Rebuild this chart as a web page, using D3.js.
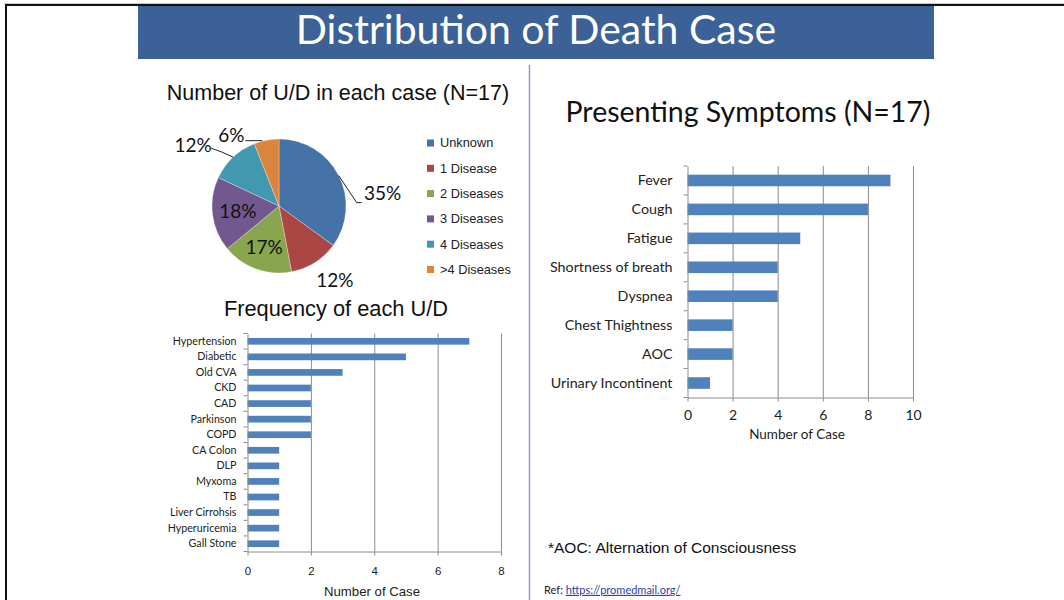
<!DOCTYPE html>
<html>
<head>
<meta charset="utf-8">
<script src="https://cdn.jsdelivr.net/npm/d3@7"></script>
<style>
body{margin:0;background:#fff}
svg{display:block}
</style>
</head>
<body>
<div id="canvas"></div>
<script>
// data
const pieCategories = ["Unknown", "1 Disease", "2 Diseases", "3 Diseases", "4 Diseases", ">4 Diseases"]
const piePercents = [35, 12, 17, 18, 12, 6]
const pieColors = ["#4572a7", "#aa4643", "#89a54e", "#71588f", "#4198af", "#db843d"]

const udNames = ["Hypertension", "Diabetic", "Old CVA", "CKD", "CAD", "Parkinson", "COPD",
    "CA Colon", "DLP", "Myxoma", "TB", "Liver Cirrohsis", "Hyperuricemia", "Gall Stone"]
const udCounts = [7, 5, 3, 2, 2, 2, 2, 1, 1, 1, 1, 1, 1, 1]
const udTicks = [0, 2, 4, 6, 8]

const symptomNames = ["Fever", "Cough", "Fatigue", "Shortness of breath", "Dyspnea",
    "Chest Thightness", "AOC", "Urinary Incontinent"]
const symptomCounts = [9, 8, 5, 4, 4, 2, 2, 1]
const symptomTicks = [0, 2, 4, 6, 8, 10]

const calibri = "Lato, 'Open Sans', sans-serif"
const arial = "'Liberation Sans', Arial, sans-serif"
const barColor = "#4f81bd"
const gridColor = "#8c8c8c"

const width = 1064
const height = 600
const svg = d3.select("#canvas").append("svg")
    .attr("width", width)
    .attr("height", height)

// slide frame
svg.append("line").attr("x1", 4).attr("x2", width).attr("y1", 3.5).attr("y2", 3.5)
    .attr("stroke", "#c8c8c8").attr("stroke-width", 1)
svg.append("line").attr("x1", 5).attr("x2", width).attr("y1", 5).attr("y2", 5)
    .attr("stroke", "#111").attr("stroke-width", 2)
svg.append("line").attr("x1", 6).attr("x2", 6).attr("y1", 4).attr("y2", height)
    .attr("stroke", "#111").attr("stroke-width", 2)

// banner
svg.append("rect").attr("x", 138).attr("y", 6).attr("width", 796).attr("height", 53)
    .attr("fill", "#3b6196")
svg.append("text").attr("x", 536).attr("y", 44)
    .attr("text-anchor", "middle")
    .style("font-family", calibri).style("font-size", "41px").style("fill", "#fff")
    .text("Distribution of Death Case")

// divider
svg.append("line").attr("x1", 529.5).attr("x2", 529.5).attr("y1", 65).attr("y2", height)
    .attr("stroke", "#8aa2bb").attr("stroke-width", 1.5)

// ---------- pie ----------
svg.append("text").attr("x", 338).attr("y", 92).attr("dy", "0.35em")
    .attr("text-anchor", "middle")
    .style("font-family", arial).style("font-size", "21.5px").style("fill", "#111")
    .text("Number of U/D in each case (N=17)")

const cx = 279, cy = 206, r = 67
const pie = d3.pie().sort(null).value(d => d)
const arcs = pie(piePercents)
const arc = d3.arc().innerRadius(0).outerRadius(r)
const edge = d3.arc().innerRadius(r).outerRadius(r)

const pg = svg.append("g").attr("transform", `translate(${cx},${cy})`)
pg.selectAll("path").data(arcs).enter().append("path")
    .attr("d", arc)
    .attr("fill", (d, i) => pieColors[i])
    .attr("stroke", "#fff").attr("stroke-width", 0.3)

// label placement: inside slices use a radius factor, outside ones an offset from the rim
const labelPlace = [
    {out: true, dx: 44, dy: 18, leader: [[0, 0], [18, 27], [23, 27]]},
    {out: true, dx: 20, dy: 18},
    {out: false, k: 0.66},
    {out: false, k: 0.62},
    {out: true, dx: -40, dy: -12, leader: [[0, 0], [-11, -5], [-22, -9]]},
    {out: true, dx: -35, dy: -5, leader: [[-4, 0.5], [-21, 0.5]]}
]
arcs.forEach((a, i) => {
    const p = labelPlace[i]
    let x, y
    if (p.out) {
        const [ex, ey] = edge.centroid(a)
        x = ex + p.dx
        y = ey + p.dy
        if (p.leader) {
            pg.append("path")
                .attr("d", d3.line()(p.leader.map(q => [ex + q[0], ey + q[1]])))
                .attr("fill", "none").attr("stroke", "#222").attr("stroke-width", 1)
        }
    } else {
        const mid = d3.arc().innerRadius(r * p.k).outerRadius(r * p.k)
        ;[x, y] = mid.centroid(a)
    }
    pg.append("text").attr("x", x).attr("y", y)
        .attr("text-anchor", "middle").attr("dy", "0.35em")
        .style("font-family", calibri).style("font-size", "19px").style("fill", "#111")
        .text(piePercents[i] + "%")
})

const legend = svg.append("g").attr("transform", "translate(427,143)")
const ly = d3.scalePoint().domain(pieCategories).range([0, 126.5])
pieCategories.forEach((c, i) => {
    legend.append("rect").attr("x", 0).attr("y", ly(c) - 3.5).attr("width", 7).attr("height", 7)
        .attr("fill", pieColors[i])
    legend.append("text").attr("x", 13).attr("y", ly(c)).attr("dy", "0.35em")
        .style("font-family", arial).style("font-size", "12.8px").style("fill", "#222")
        .text(c)
})

// ---------- horizontal bar charts ----------
function hbar(o) {
    const g = svg.append("g")
    const x = d3.scaleLinear().domain([0, o.ticks[o.ticks.length - 1]]).range([o.left, o.right])
    const y = d3.scaleBand().domain(o.names).range([o.top, o.bottom])
        .paddingInner(o.pad).paddingOuter(o.pad / 2)

    // gridlines
    g.append("g").attr("transform", `translate(0,${o.bottom})`)
        .call(d3.axisBottom(x).tickValues(o.ticks.slice(1)).tickSize(-(o.bottom - o.top)).tickFormat(""))
        .call(s => s.select(".domain").remove())
        .selectAll("line").attr("stroke", gridColor)

    g.selectAll("rect.bar").data(o.values).enter().append("rect")
        .attr("class", "bar")
        .attr("x", x(0))
        .attr("y", (d, i) => y(o.names[i]))
        .attr("width", d => x(d) - x(0))
        .attr("height", y.bandwidth())
        .attr("fill", barColor)

    // x axis
    const xa = g.append("g").attr("transform", `translate(0,${o.bottom})`)
        .call(d3.axisBottom(x).tickValues(o.ticks).tickSize(4).tickSizeOuter(0).tickPadding(o.xPad))
    xa.select(".domain").attr("stroke", gridColor)
    xa.selectAll("line").attr("stroke", gridColor)
    xa.selectAll("text").style("font-family", o.xFont).style("font-size", o.xSize).style("fill", "#222")

    // y axis, ticks between categories like the source
    const ya = g.append("g").attr("transform", `translate(${o.left},0)`)
        .call(d3.axisLeft(y).tickSize(0).tickPadding(o.yPad))
    ya.select(".domain").attr("stroke", gridColor)
    ya.selectAll("text").style("font-family", calibri).style("font-size", o.ySize).style("fill", "#222")
    const step = y.step()
    g.selectAll("line.sep").data(d3.range(o.names.length + 1)).enter().append("line")
        .attr("class", "sep")
        .attr("x1", o.left - 4).attr("x2", o.left)
        .attr("y1", i => o.top + i * step).attr("y2", i => o.top + i * step)
        .attr("stroke", gridColor)

    svg.append("text").attr("x", o.titleX).attr("y", o.titleY)
        .attr("text-anchor", "middle").attr("dy", "0.35em")
        .style("font-family", o.titleFont).style("font-size", o.titleSize).style("fill", "#222")
        .text("Number of Case")
}

svg.append("text").attr("x", 336).attr("y", 308).attr("dy", "0.35em")
    .attr("text-anchor", "middle")
    .style("font-family", arial).style("font-size", "21.8px").style("fill", "#111")
    .text("Frequency of each U/D")

hbar({
    names: udNames, values: udCounts, ticks: udTicks,
    left: 247.5, right: 501, top: 333.5, bottom: 551.5, pad: 0.57,
    xFont: arial, xSize: "11.5px", xPad: 11, ySize: "10.7px", yPad: 11,
    titleX: 372, titleY: 591, titleFont: arial, titleSize: "13.2px"
})

svg.append("text").attr("x", 748).attr("y", 112).attr("dy", "0.35em")
    .attr("text-anchor", "middle")
    .style("font-family", calibri).style("font-size", "28.5px").style("fill", "#111")
    .text("Presenting Symptoms (N=17)")

hbar({
    names: symptomNames, values: symptomCounts, ticks: symptomTicks,
    left: 687.5, right: 913, top: 166, bottom: 397.5, pad: 0.6,
    xFont: calibri, xSize: "14px", xPad: 9, ySize: "14.3px", yPad: 15,
    titleX: 797, titleY: 434, titleFont: calibri, titleSize: "13.5px"
})

// footnotes
svg.append("text").attr("x", 548).attr("y", 548).attr("dy", "0.35em")
    .style("font-family", arial).style("font-size", "15.5px").style("fill", "#111")
    .text("*AOC: Alternation of Consciousness")

const ref = svg.append("text").attr("x", 544).attr("y", 590).attr("dy", "0.35em")
    .style("font-family", calibri).style("font-size", "11px").style("fill", "#222")
ref.append("tspan").text("Ref: ")
ref.append("tspan").style("fill", "#1f3fa0").style("text-decoration", "underline")
    .text("https://promedmail.org/")
</script>
</body>
</html>
